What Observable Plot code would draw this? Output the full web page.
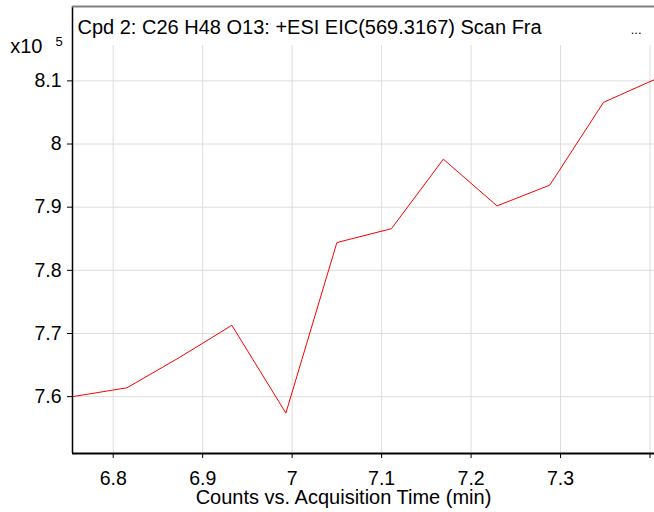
<!DOCTYPE html>
<html>
<head>
<meta charset="utf-8">
<script src="https://cdn.jsdelivr.net/npm/d3@7"></script>
<script src="https://cdn.jsdelivr.net/npm/@observablehq/plot@0.6"></script>
<style>
  html, body { margin: 0; padding: 0; background: #fff; }
  svg { display: block; font-family: "Liberation Sans", Arial, sans-serif; }
</style>
</head>
<body>
<div id="chart"></div>
<script>
const titleText = "Cpd 2: C26 H48 O13: +ESI EIC(569.3167) Scan Fra";
const xLabel = "Counts vs. Acquisition Time (min)";
const times = [6.7545, 6.8153, 6.8740, 6.9326, 6.9930, 7.0500, 7.1110, 7.1690, 7.2290, 7.2880, 7.3480, 7.4050];
const counts = [7.600, 7.614, 7.662, 7.713, 7.574, 7.844, 7.866, 7.976, 7.902, 7.935, 8.066, 8.102];
const xTicks = [6.8, 6.9, 7.0, 7.1, 7.2, 7.3, 7.4];
const xTickLabels = ["6.8", "6.9", "7", "7.1", "7.2", "7.3", ""];
const yTicks = [7.6, 7.7, 7.8, 7.9, 8.0, 8.1];
const yTickLabels = ["7.6", "7.7", "7.8", "7.9", "8", "8.1"];
const xDomain = [6.7545, 7.405];
const yDomain = [7.510, 8.156];

const data = times.map((t, i) => ({t, c: counts[i]}));

const chart = Plot.plot({
  width: 654,
  height: 512,
  marginLeft: 72,
  marginRight: 0,
  marginTop: 45,
  marginBottom: 59,
  style: {fontFamily: '"Liberation Sans", Arial, sans-serif', background: "#fff"},
  x: {domain: xDomain},
  y: {domain: yDomain},
  marks: [
    Plot.gridX(xTicks, {stroke: "#dddddd", strokeOpacity: 1, strokeWidth: 1}),
    Plot.gridY(yTicks, {stroke: "#dddddd", strokeOpacity: 1, strokeWidth: 1}),
    Plot.line(data, {x: "t", y: "c", stroke: "#ff0000", strokeWidth: 1, clip: true}),
    Plot.axisY(yTicks, {
      tickSize: 5, tickPadding: 6, fontSize: 19.5, stroke: "#000", fill: "#000",
      tickFormat: (d, i) => yTickLabels[i], label: null
    }),
    Plot.axisX(xTicks, {
      tickSize: 5, tickPadding: 13, fontSize: 19.5, stroke: "#000", fill: "#000",
      tickFormat: (d, i) => xTickLabels[i], label: null
    }),
    Plot.ruleX([xDomain[0]], {stroke: "#000", strokeWidth: 1.5, insetTop: -39}),
    Plot.ruleY([yDomain[0]], {stroke: "#000", strokeWidth: 2}),
    Plot.ruleY([yDomain[1]], {stroke: "#808080", strokeWidth: 2, dy: -39}),
    Plot.text([titleText], {frameAnchor: "top-left", text: d => d, textAnchor: "start", lineAnchor: "bottom", dx: 5, dy: -12, fontSize: 20, fill: "#000"}),
    Plot.text(["..."], {frameAnchor: "top-right", text: d => d, textAnchor: "end", lineAnchor: "bottom", dx: -13, dy: -12, fontSize: 13, fill: "#000"}),
    Plot.text(["x10"], {frameAnchor: "top-left", text: d => d, textAnchor: "end", lineAnchor: "bottom", dx: -30, dy: 7, fontSize: 20, fill: "#000"}),
    Plot.text(["5"], {frameAnchor: "top-left", text: d => d, textAnchor: "start", lineAnchor: "bottom", dx: -17, dy: 0, fontSize: 13, fill: "#000"}),
    Plot.text([xLabel], {frameAnchor: "bottom", text: d => d, textAnchor: "middle", lineAnchor: "bottom", dx: -20, dy: 50, fontSize: 20, fill: "#000"})
  ]
});
document.getElementById("chart").appendChild(chart);
</script>
</body>
</html>
